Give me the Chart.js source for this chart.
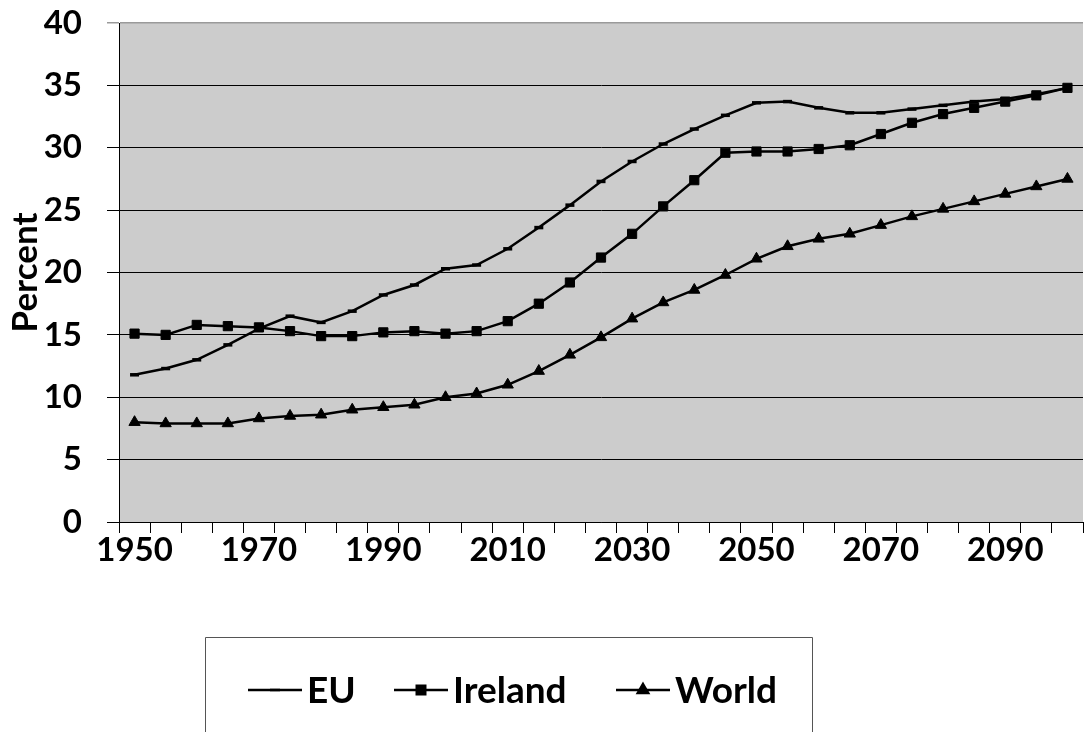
<!DOCTYPE html>
<html>
<head>
<meta charset="utf-8">
<script src="https://cdn.jsdelivr.net/npm/chart.js@4.4.1/dist/chart.umd.min.js"></script>
<style>
  html, body { margin: 0; padding: 0; background: #fff; overflow: hidden; width: 1086px; height: 732px; }
  #wrap { position: absolute; left: 0; top: 0; width: 1091px; height: 732px; }
</style>
</head>
<body>
<div id="wrap"><canvas id="c" width="1091" height="732"></canvas></div>
<script>
// Share of population aged 65+ (percent), 1950–2100
const years = ['1950','1955','1960','1965','1970','1975','1980','1985','1990','1995',
               '2000','2005','2010','2015','2020','2025','2030','2035','2040','2045',
               '2050','2055','2060','2065','2070','2075','2080','2085','2090','2095','2100'];
const shownYears = ['1950','1970','1990','2010','2030','2050','2070','2090'];

const eu = [11.8, 12.3, 13.0, 14.2, 15.5, 16.5, 16.0, 16.9, 18.2, 19.0,
            20.3, 20.6, 21.9, 23.6, 25.4, 27.3, 28.9, 30.3, 31.5, 32.6,
            33.6, 33.7, 33.2, 32.8, 32.8, 33.1, 33.4, 33.7, 33.9, 34.3, 34.8];
const ireland = [15.1, 15.0, 15.8, 15.7, 15.6, 15.3, 14.9, 14.9, 15.2, 15.3,
                 15.1, 15.3, 16.1, 17.5, 19.2, 21.2, 23.1, 25.3, 27.4, 29.6,
                 29.7, 29.7, 29.9, 30.2, 31.1, 32.0, 32.7, 33.2, 33.7, 34.2, 34.8];
const world = [8.0, 7.9, 7.9, 7.9, 8.3, 8.5, 8.6, 9.0, 9.2, 9.4,
               10.0, 10.3, 11.0, 12.1, 13.4, 14.8, 16.3, 17.6, 18.6, 19.8,
               21.1, 22.1, 22.7, 23.1, 23.8, 24.5, 25.1, 25.7, 26.3, 26.9, 27.5];

const FONT = 'Lato, "DejaVu Sans", sans-serif';

// grey plot background
const plotBg = {
  id: 'plotBg',
  beforeDraw(chart) {
    const { ctx, chartArea: a } = chart;
    ctx.save();
    ctx.fillStyle = '#cccccc';
    ctx.fillRect(a.left, a.top, a.right - a.left, a.bottom - a.top);
    ctx.restore();
  }
};

// boxed legend under the chart: line sample with marker, then the label
const boxLegend = {
  id: 'boxLegend',
  afterDraw(chart) {
    const ctx = chart.ctx;
    ctx.save();
    ctx.strokeStyle = '#555';
    ctx.lineWidth = 1;
    ctx.beginPath();
    ctx.moveTo(205.5, 740);
    ctx.lineTo(205.5, 637.5);
    ctx.lineTo(812.5, 637.5);
    ctx.lineTo(812.5, 740);
    ctx.stroke();

    const cy = 690;
    const starts = [248, 394, 616];
    chart.data.datasets.forEach((ds, i) => {
      const x0 = starts[i], x1 = x0 + 54;
      ctx.strokeStyle = '#000';
      ctx.lineWidth = 2.5;
      ctx.beginPath();
      ctx.moveTo(x0, cy);
      ctx.lineTo(x1, cy);
      ctx.stroke();
      const isLine = ds.pointStyle === 'line';
      Chart.helpers.drawPoint(ctx, {
        pointStyle: ds.pointStyle,
        radius: isLine ? 5 : 6,
        borderWidth: isLine ? 4 : 1,
        rotation: 0
      }, (x0 + x1) / 2, cy);
      ctx.fillStyle = '#000';
      ctx.font = 'bold 37px ' + FONT;
      ctx.textBaseline = 'middle';
      ctx.textAlign = 'left';
      ctx.fillText(ds.label, x1 + 5, cy + 1);
    });
    ctx.restore();
  }
};

const common = {
  borderColor: '#000',
  backgroundColor: '#000',
  pointBackgroundColor: '#000',
  pointBorderColor: '#000',
  borderWidth: 2.5,
  tension: 0
};

new Chart(document.getElementById('c'), {
  type: 'line',
  data: {
    labels: years,
    datasets: [
      { ...common, label: 'EU', data: eu, pointStyle: 'line', pointRadius: 4.5, pointBorderWidth: 3.5 },
      { ...common, label: 'Ireland', data: ireland, pointStyle: 'rect', pointRadius: 6.5, pointBorderWidth: 1 },
      { ...common, label: 'World', data: world, pointStyle: 'triangle', pointRadius: 6.5, pointBorderWidth: 1 }
    ]
  },
  options: {
    responsive: false,
    animation: false,
    events: [],
    layout: { padding: { top: 23, left: 0, right: 0, bottom: 0 } },
    plugins: { legend: { display: false }, tooltip: { enabled: false } },
    scales: {
      x: {
        type: 'category',
        offset: true,
        grid: { offset: true, drawOnChartArea: false, drawTicks: true, tickLength: 11, color: '#000', lineWidth: 1 },
        border: { display: true, color: '#000', width: 1 },
        ticks: {
          autoSkip: false,
          maxRotation: 0,
          padding: -1,
          color: '#000',
          font: { family: FONT, size: 33, weight: 'bold', lineHeight: 1.1 },
          callback(v) { const l = this.getLabelForValue(v); return shownYears.includes(l) ? l : ''; }
        },
        afterFit(s) { s.height = 210; s.paddingLeft = 0; s.paddingRight = 0; }
      },
      y: {
        min: 0, max: 40,
        grid: {
          drawTicks: true, tickLength: 12,
          color: (c) => c.tick && c.tick.value === 40 ? '#9a9a9a' : '#000',
          lineWidth: (c) => c.tick && c.tick.value === 40 ? 1.5 : 1
        },
        border: { display: true, color: '#000', width: 1 },
        ticks: {
          stepSize: 5,
          padding: 25,
          color: '#000',
          font: { family: FONT, size: 33, weight: 'bold' }
        },
        title: {
          display: true,
          text: 'Percent',
          color: '#000',
          font: { family: FONT, size: 35, weight: 'bold', lineHeight: 1.1 },
          padding: { top: 6, bottom: 0 }
        },
        afterFit(s) { s.width = 119; s.paddingTop = 0; s.paddingBottom = 0; }
      }
    }
  },
  plugins: [plotBg, boxLegend]
});
</script>
</body>
</html>
